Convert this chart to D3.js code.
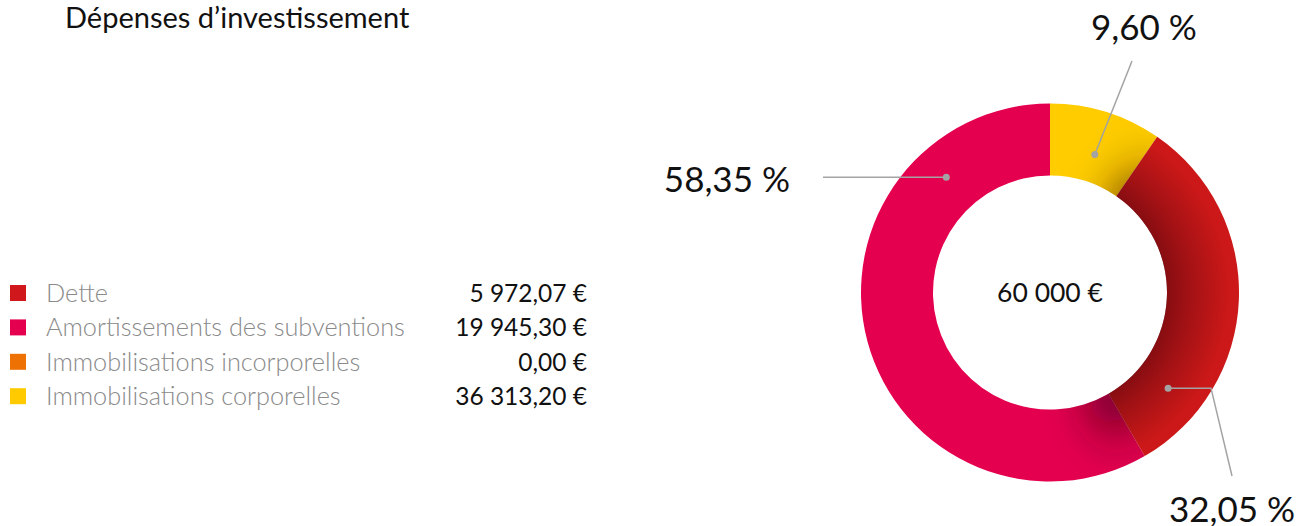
<!DOCTYPE html>
<html>
<head>
<meta charset="utf-8">
<script src="https://cdn.jsdelivr.net/npm/d3@7"></script>
<style>
  body { margin: 0; background: #fff; }
  svg { display: block; font-family: Lato, "Open Sans", sans-serif; }
</style>
</head>
<body>
<svg id="chart"></svg>
<script>
const categories = ["Dette", "Amortissements des subventions", "Immobilisations incorporelles", "Immobilisations corporelles"];
const values = [5972.07, 19945.30, 0.00, 36313.20];
const legendColors = ["#cf171c", "#e5004f", "#ee7203", "#ffcb00"];
const sliceColors = ["#ffcc00", "#cc1818", "#ee7203", "#e4004f"];
const labelAngles = [18, 129, null, 318]; // where the leader dot sits, degrees from top
const centerTotal = 60000;
const title = "Dépenses d’investissement";

const width = 1298;
const height = 526;

const fr = d3.formatLocale({ decimal: ",", thousands: " ", grouping: [3], currency: ["", " €"] });
const fmtMoney = fr.format(",.2f");
const fmtInt = fr.format(",.0f");
const fmtPct = fr.format(".2f");

const svg = d3.select("#chart")
  .attr("width", width)
  .attr("height", height);

// title
svg.append("text")
  .attr("x", 65)
  .attr("y", 28)
  .attr("font-size", 29)
  .attr("fill", "#111")
  .text(title);

// legend
const legend = svg.append("g").attr("transform", "translate(10, 293)");
const rowY = d3.scaleLinear().domain([0, 1]).range([0, 34.4]);

const rows = legend.selectAll("g.row")
  .data(categories)
  .enter()
  .append("g")
  .attr("class", "row")
  .attr("transform", (d, i) => `translate(0, ${rowY(i)})`);

rows.append("rect")
  .attr("x", 0)
  .attr("y", -8)
  .attr("width", 16)
  .attr("height", 16)
  .attr("fill", (d, i) => legendColors[i]);

rows.append("text")
  .attr("x", 36)
  .attr("y", 9)
  .attr("font-size", 25.3)
  .attr("font-weight", 300)
  .attr("fill", "#8a8a8a")
  .text(d => d);

rows.append("text")
  .attr("x", 577)
  .attr("y", 9)
  .attr("font-size", 24.5)
  .attr("text-anchor", "end")
  .attr("fill", "#111")
  .text((d, i) => fmtMoney(values[i]) + " €");

// donut
const cx = 1050, cy = 292.5;
const outerR = 189, innerR = 117;

const total = d3.sum(values);
const pie = d3.pie().sort(null).value(d => d.value);
const slices = pie(values.map((v, i) => ({ value: v, i })));
const arc = d3.arc().innerRadius(innerR).outerRadius(outerR);

const defs = svg.append("defs");

const grad = defs.append("radialGradient")
  .attr("id", "redGrad")
  .attr("gradientUnits", "userSpaceOnUse")
  .attr("cx", 0).attr("cy", 0).attr("r", outerR);
grad.append("stop").attr("offset", innerR / outerR).attr("stop-color", "#870d11");
grad.append("stop").attr("offset", 0.75).attr("stop-color", "#a51215");
grad.append("stop").attr("offset", 0.95).attr("stop-color", "#cc1818");

const shadowGrad = defs.append("radialGradient")
  .attr("id", "shadowGrad")
  .attr("gradientUnits", "userSpaceOnUse")
  .attr("cx", 0).attr("cy", 0).attr("r", outerR);
shadowGrad.append("stop").attr("offset", innerR / outerR).attr("stop-color", "#2a0010").attr("stop-opacity", 0.75);
shadowGrad.append("stop").attr("offset", 0.95).attr("stop-color", "#2a0010").attr("stop-opacity", 0);

defs.append("filter")
  .attr("id", "blur")
  .attr("x", "-50%").attr("y", "-50%").attr("width", "200%").attr("height", "200%")
  .append("feGaussianBlur")
  .attr("stdDeviation", 20);

defs.append("clipPath")
  .attr("id", "ring")
  .append("path")
  .attr("d", d3.arc().innerRadius(innerR).outerRadius(outerR)({ startAngle: 0, endAngle: 2 * Math.PI }));

const donut = svg.append("g").attr("transform", `translate(${cx}, ${cy})`);

const shaded = slices.filter(s => s.data.i === 1);
const plain = slices.filter(s => s.data.i !== 1 && s.value > 0);

donut.selectAll("path.slice")
  .data(plain)
  .enter()
  .append("path")
  .attr("class", "slice")
  .attr("d", arc)
  .attr("fill", d => sliceColors[d.data.i]);

// soft shadow the dark slice throws on its neighbours
const shadowArc = d3.arc()
  .innerRadius(innerR - 15)
  .outerRadius(outerR)
  .startAngle(d => d.startAngle - 0.04)
  .endAngle(d => d.endAngle + 0.2);

donut.append("g")
  .attr("clip-path", "url(#ring)")
  .selectAll("path")
  .data(shaded)
  .enter()
  .append("path")
  .attr("d", shadowArc)
  .attr("fill", "url(#shadowGrad)")
  .attr("filter", "url(#blur)");

donut.selectAll("path.main")
  .data(shaded)
  .enter()
  .append("path")
  .attr("class", "main")
  .attr("d", arc)
  .attr("fill", "url(#redGrad)");

donut.append("text")
  .attr("x", 0)
  .attr("y", 9.5)
  .attr("text-anchor", "middle")
  .attr("font-size", 26.5)
  .attr("fill", "#111")
  .text(fmtInt(centerTotal) + " €");

// labels with leader lines
const midR = (innerR + outerR) / 2;
const polar = (deg, r) => [r * Math.sin(deg * Math.PI / 180), -r * Math.cos(deg * Math.PI / 180)];

const labelLayout = {
  0: { pts: d => [polar(d, midR - 8), [82, -231.5]], text: [94, -252.5], anchor: "middle" },
  1: { pts: d => { const p = polar(d, midR - 1); return [p, [161, p[1]], [182, 183.5]]; }, text: [182, 229.5], anchor: "middle" },
  3: { pts: d => { const p = polar(d, midR + 2); return [p, [-227, p[1]]]; }, text: [-260, -100.5], anchor: "end" }
};

const labeled = slices.filter(s => s.value > 0);
const labels = donut.selectAll("g.label")
  .data(labeled)
  .enter()
  .append("g")
  .attr("class", "label");

labels.append("path")
  .attr("d", d => d3.line()(labelLayout[d.data.i].pts(labelAngles[d.data.i])))
  .attr("fill", "none")
  .attr("stroke", "#a3a3a3")
  .attr("stroke-width", 1.5);

labels.append("circle")
  .attr("cx", d => labelLayout[d.data.i].pts(labelAngles[d.data.i])[0][0])
  .attr("cy", d => labelLayout[d.data.i].pts(labelAngles[d.data.i])[0][1])
  .attr("r", 3.5)
  .attr("fill", "#a3a3a3");

labels.append("text")
  .attr("x", d => labelLayout[d.data.i].text[0])
  .attr("y", d => labelLayout[d.data.i].text[1])
  .attr("text-anchor", d => labelLayout[d.data.i].anchor)
  .attr("font-size", 35)
  .attr("fill", "#111")
  .text(d => fmtPct(d.value / total * 100) + " %");
</script>
</body>
</html>
